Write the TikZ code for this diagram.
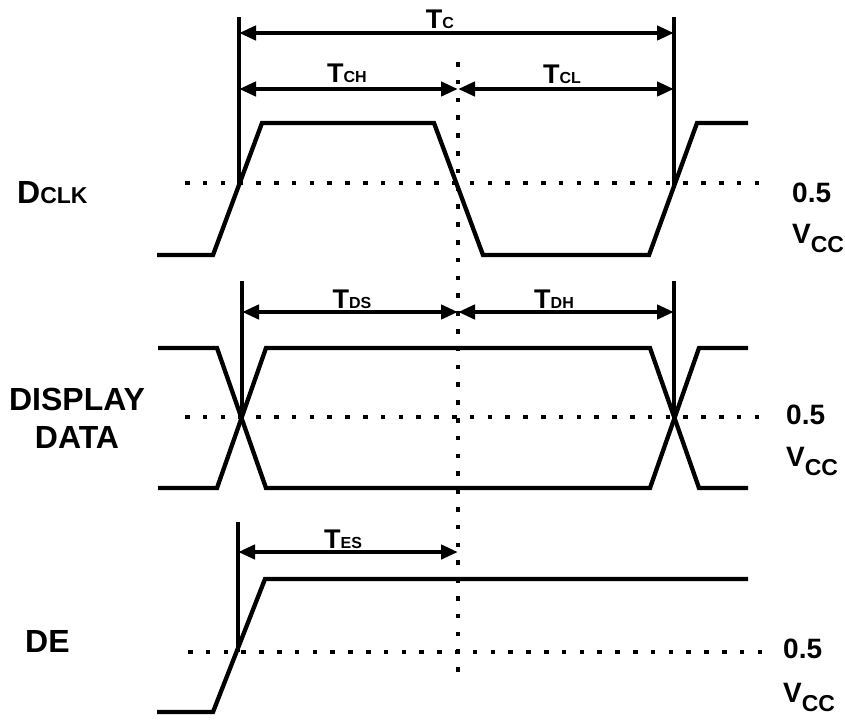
\documentclass[tikz,border=0pt]{standalone}
\usepackage{fontspec}
\setmainfont{Liberation Sans}
\usetikzlibrary{arrows.meta}

\newcommand{\tlbl}[2]{{\fontsize{27}{27}\selectfont #1}{\fontsize{16}{16}\selectfont #2}}
\newcommand{\vcclbl}{V\raisebox{-9pt}{\fontsize{23}{23}\selectfont CC}}

\begin{document}
\begin{tikzpicture}[x=1pt, y=-1pt,
    wave/.style={line width=4.3pt, line join=miter},
    marker/.style={line width=4.8pt},
    dim/.style={{Triangle[length=17pt,width=14pt]}-{Triangle[length=17pt,width=14pt]}, line width=4.3pt},
    level/.style={line width=4.5pt, dash pattern=on 4.5pt off 13.3pt},
    sig/.style={anchor=base, inner sep=0pt, font=\fontsize{32}{38}\selectfont\bfseries},
    lvl/.style={anchor=base west, inner sep=0pt, font=\fontsize{28}{28}\selectfont\bfseries},
    tlab/.style={anchor=base, inner sep=0pt, font=\bfseries}]
    \useasboundingbox (0,0) rectangle (845,720);

    % signal names
    \node(dclk) [sig, anchor=base west] at (17,203) {D{\fontsize{23}{23}\selectfont CLK}};
    \node(display) [sig] at (77,410) {DISPLAY};
    \node(data) [sig] at (77,448) {DATA};
    \node(de) [sig, anchor=base west] at (25,652) {DE};

    % levels
    \node(half1) [lvl] at (792,202) {0.5};
    \node(vcc1) [lvl] at (792,243) {\vcclbl};
    \node(half2) [lvl] at (786,424) {0.5};
    \node(vcc2) [lvl] at (786,466) {\vcclbl};
    \node(half3) [lvl] at (783,658) {0.5};
    \node(vcc3) [lvl] at (783,702) {\vcclbl};

    % timing labels
    \node(tc) [tlab] at (440,28) {\tlbl{T}{C}};
    \node(tch) [tlab] at (347,82) {\tlbl{T}{CH}};
    \node(tcl) [tlab] at (562,83) {\tlbl{T}{CL}};
    \node(tds) [tlab] at (352,308) {\tlbl{T}{DS}};
    \node(tdh) [tlab] at (554,308) {\tlbl{T}{DH}};
    \node(tes) [tlab] at (343,548) {\tlbl{T}{ES}};

    %%%%% dotted lines %%%%%
    \coordinate(lv1a) at (185,183);
    \coordinate(lv1b) at (772,183);
    \coordinate(lv2a) at (185,417);
    \coordinate(lv2b) at (772,417);
    \coordinate(lv3a) at (188,652);
    \coordinate(lv3b) at (772,652);
    \coordinate(midt) at (458,62);
    \coordinate(midb) at (458,682);
    \draw[level](lv1a) -- (lv1b);
    \draw[level](lv2a) -- (lv2b);
    \draw[level](lv3a) -- (lv3b);
    \draw[level](midt) -- (midb);

    %%%%% waveforms %%%%%
    % DCLK
    \draw[wave] (157,255) -- (213,255) -- (262,123) -- (434,123) -- (483,255)
        -- (649,255) -- (697,123) -- (748,123);
    % DISPLAY DATA
    \draw[wave] (158,348) -- (217,348) -- (266,488) -- (650,488) -- (699,348) -- (748,348);
    \draw[wave] (158,488) -- (217,488) -- (266,348) -- (650,348) -- (699,488) -- (748,488);
    % DE
    \draw[wave] (157,712) -- (213,712) -- (265,579) -- (748,579);

    %%%%% markers %%%%%
    \coordinate(mk1t) at (239,17);
    \coordinate(mk1b) at (239,185);
    \coordinate(mk2t) at (674,17);
    \coordinate(mk2b) at (674,185);
    \coordinate(mk3t) at (242,281);
    \coordinate(mk3b) at (242,418);
    \coordinate(mk4t) at (674,281);
    \coordinate(mk4b) at (674,418);
    \coordinate(mk5t) at (238,522);
    \coordinate(mk5b) at (238,652);
    \draw[marker](mk1t) -- (mk1b);
    \draw[marker](mk2t) -- (mk2b);
    \draw[marker](mk3t) -- (mk3b);
    \draw[marker](mk4t) -- (mk4b);
    \draw[marker](mk5t) -- (mk5b);

    %%%%% arrows %%%%%
    \coordinate(tcA) at (239,33);
    \coordinate(tcB) at (674,33);
    \coordinate(tchA) at (239,89);
    \coordinate(mid1) at (458,89);
    \coordinate(tclB) at (674,89);
    \coordinate(tdsA) at (242,312);
    \coordinate(mid2) at (458,312);
    \coordinate(tdhB) at (674,312);
    \coordinate(tesA) at (238,552);
    \coordinate(mid3) at (458,552);
    \draw[dim](tcA) -- (tcB);
    \draw[dim](tchA) -- (mid1);
    \draw[dim](mid1) -- (tclB);
    \draw[dim](tdsA) -- (mid2);
    \draw[dim](mid2) -- (tdhB);
    \draw[dim](tesA) -- (mid3);

\end{tikzpicture}
\end{document}
